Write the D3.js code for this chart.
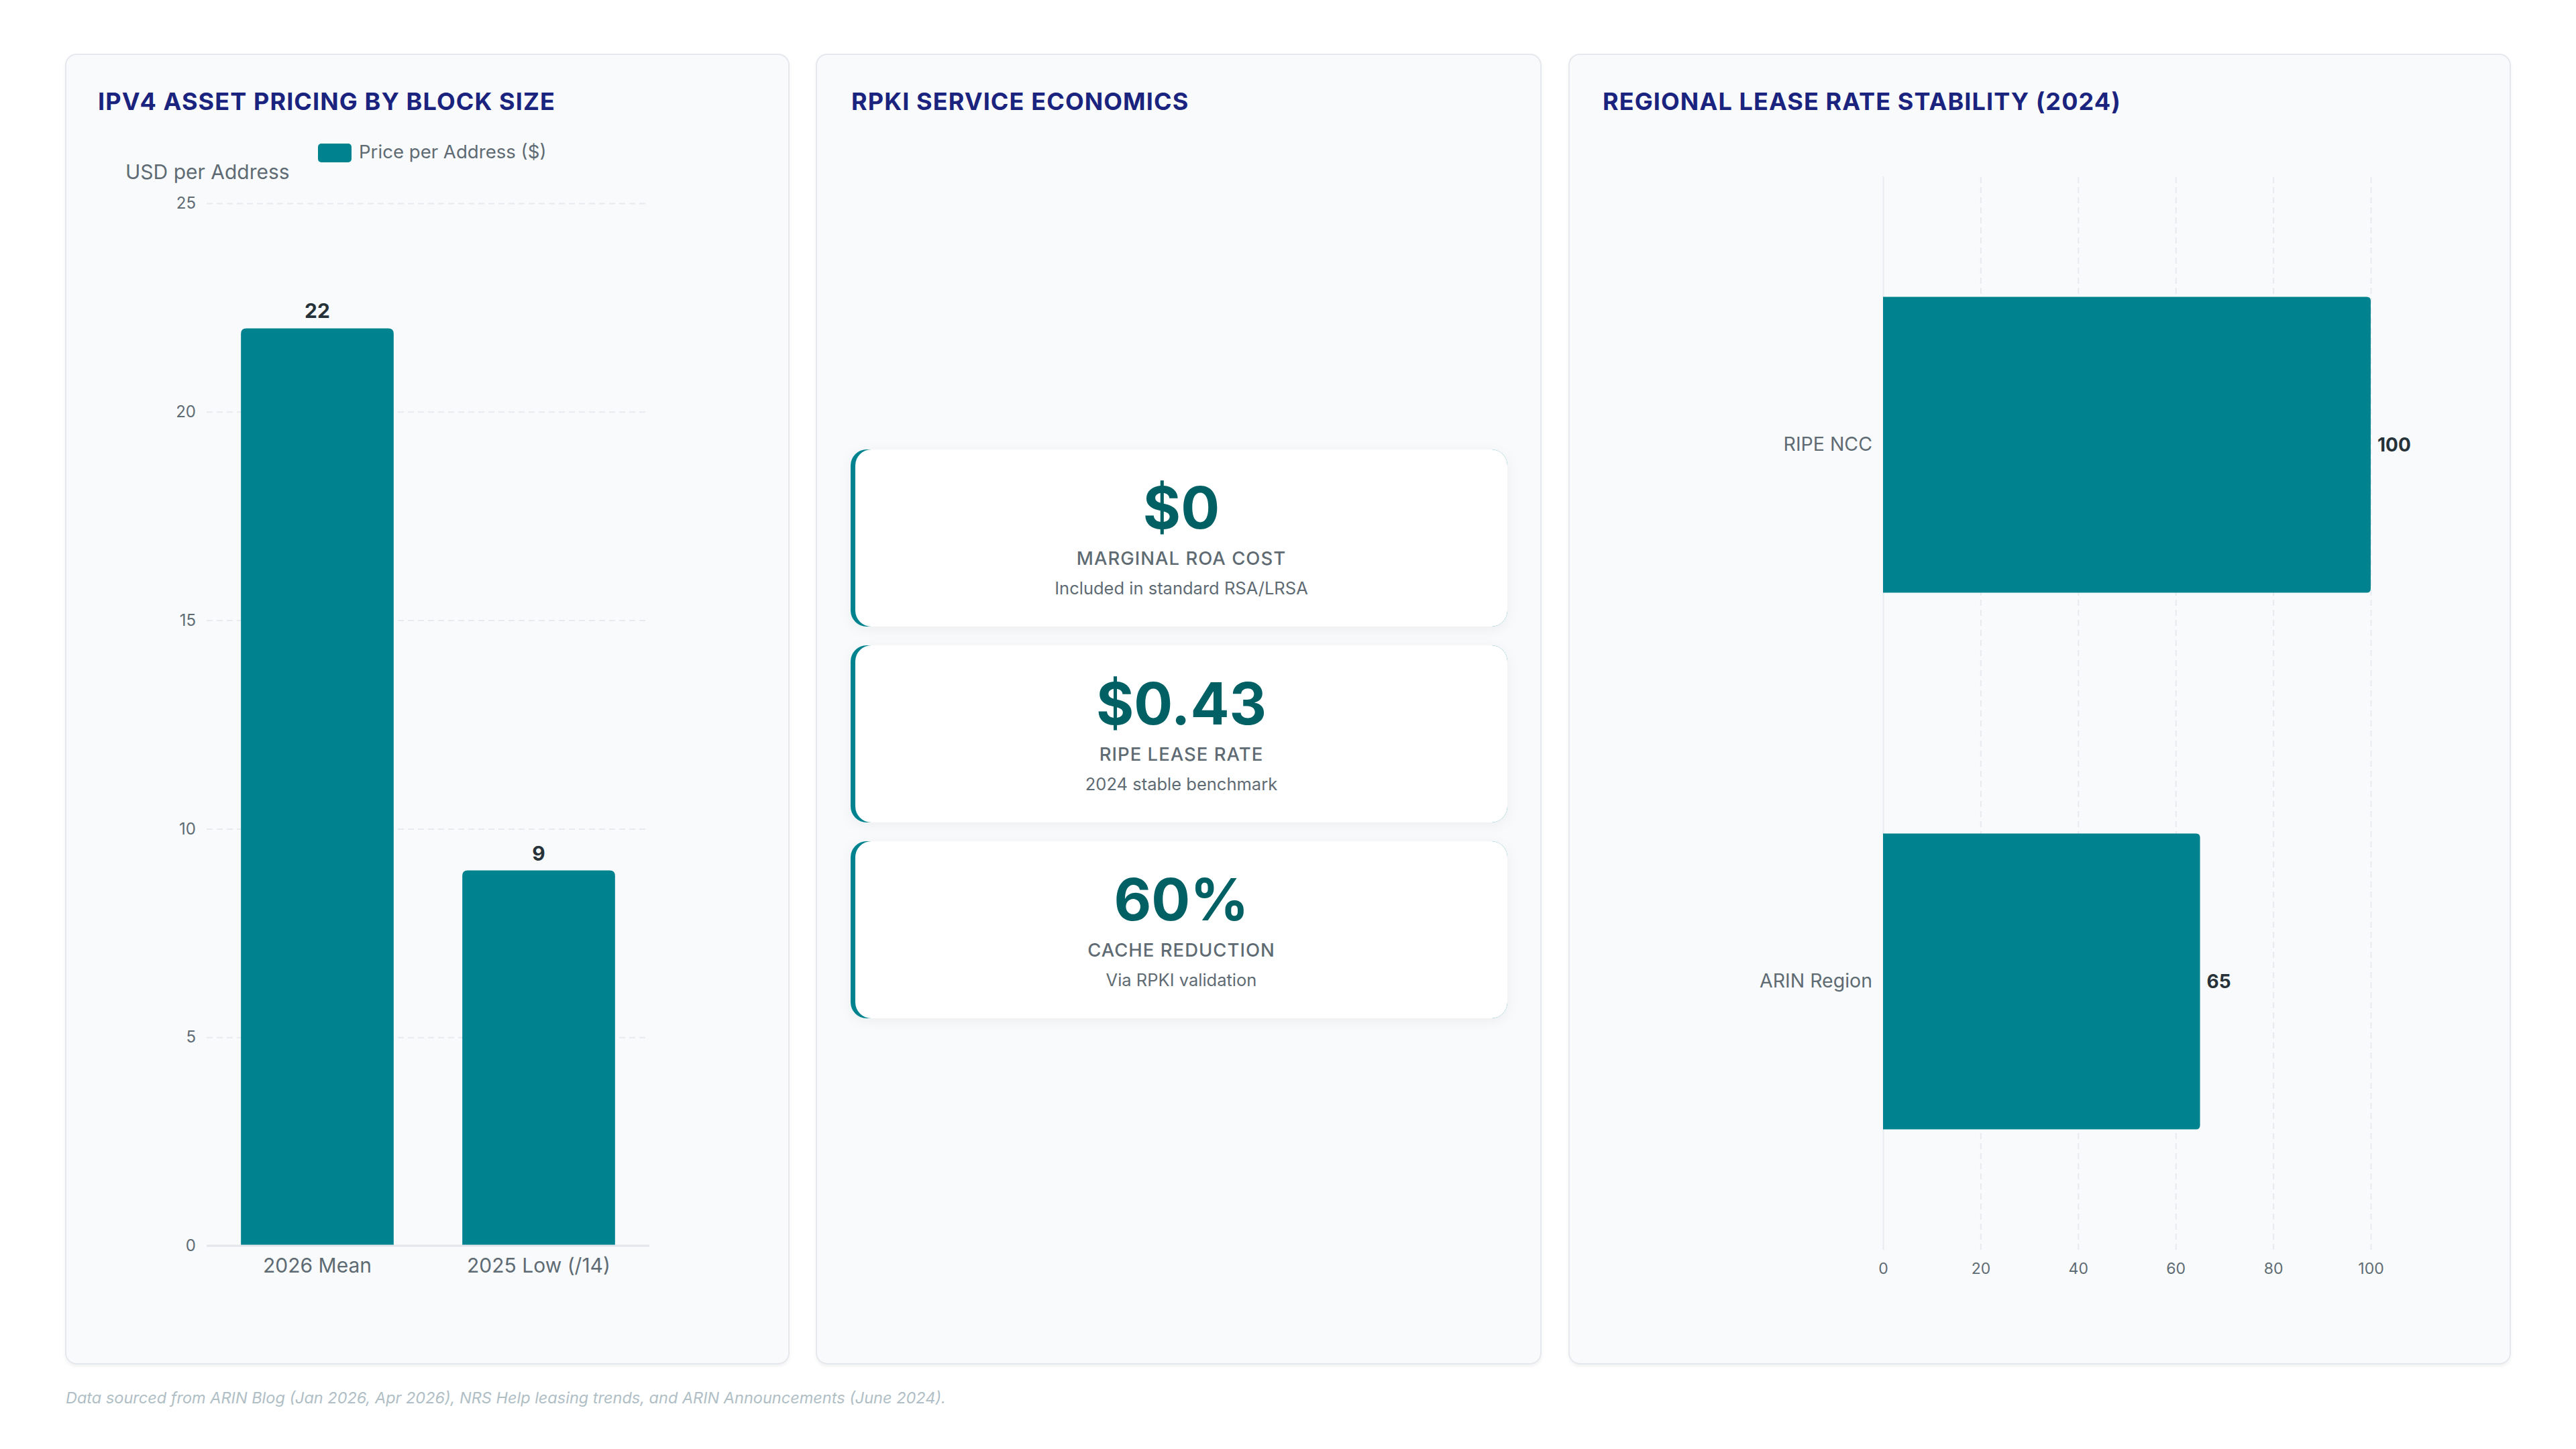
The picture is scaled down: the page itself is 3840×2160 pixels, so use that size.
<!DOCTYPE html>
<html>
<head>
<meta charset="utf-8">
<script src="https://cdn.jsdelivr.net/npm/d3@7"></script>
<style>
  body { margin: 0; background: #ffffff; font-family: Inter, "Noto Sans", sans-serif; }
  svg { display: block; }
</style>
</head>
<body>
<svg id="page" width="3840" height="2160"></svg>
<script>
// ---- data ----
var priceCategories = ["2026 Mean", "2025 Low (/14)"],
    priceValues = [22, 9],
    priceTicks = [0, 5, 10, 15, 20, 25];

var regionCategories = ["RIPE NCC", "ARIN Region"],
    regionValues = [100, 65],
    regionTicks = [0, 20, 40, 60, 80, 100];

var kpiValues = ["$0", "$0.43", "60%"],
    kpiLabels = ["MARGINAL ROA COST", "RIPE LEASE RATE", "CACHE REDUCTION"],
    kpiNotes = ["Included in standard RSA/LRSA", "2024 stable benchmark", "Via RPKI validation"];

var panelTitles = ["IPV4 ASSET PRICING BY BLOCK SIZE", "RPKI SERVICE ECONOMICS", "REGIONAL LEASE RATE STABILITY (2024)"];

// ---- look ----
var teal = "#00838f",
    tealDark = "#006064",
    navy = "#1a237e",
    grey = "#5f6b73",
    gridColor = "#e7eaee",
    panelTop = 81,
    panelHeight = 1952,
    panels = [{ x: 98, w: 1078, tx: 146 }, { x: 1217, w: 1080, tx: 1269 }, { x: 2339, w: 1403, tx: 2389 }];

var svg = d3.select("#page");
var defs = svg.append("defs");

var f1 = defs.append("filter").attr("id", "panelShadow")
    .attr("x", "-5%").attr("y", "-5%").attr("width", "110%").attr("height", "110%");
f1.append("feDropShadow").attr("dx", 0).attr("dy", 3).attr("stdDeviation", 2)
    .attr("flood-color", "#000").attr("flood-opacity", 0.05);

var f2 = defs.append("filter").attr("id", "cardShadow")
    .attr("x", "-10%").attr("y", "-20%").attr("width", "120%").attr("height", "140%");
f2.append("feDropShadow").attr("dx", 0).attr("dy", 4).attr("stdDeviation", 9)
    .attr("flood-color", "#000").attr("flood-opacity", 0.05);

// panels
svg.selectAll("rect.panel")
    .data(panels)
    .enter()
    .append("rect")
    .attr("class", "panel")
    .attr("x", function(d) { return d.x; })
    .attr("y", panelTop)
    .attr("width", function(d) { return d.w; })
    .attr("height", panelHeight)
    .attr("rx", 16)
    .attr("fill", "#f8fafc")
    .attr("stroke", "#e5e8ec")
    .attr("stroke-width", 2)
    .attr("filter", "url(#panelShadow)");

svg.selectAll("text.panelTitle")
    .data(panelTitles)
    .enter()
    .append("text")
    .attr("class", "panelTitle")
    .attr("x", function(d, i) { return panels[i].tx; })
    .attr("y", 164)
    .attr("font-size", "36px")
    .attr("font-weight", 700)
    .attr("letter-spacing", "1.1px")
    .attr("fill", navy)
    .text(function(d) { return d; });

// rounded-top bar path (vertical bars)
function topRounded(x, y, w, h, r) {
    r = Math.min(r, h, w / 2);
    return "M" + x + "," + (y + h) +
        "V" + (y + r) + "Q" + x + "," + y + " " + (x + r) + "," + y +
        "H" + (x + w - r) + "Q" + (x + w) + "," + y + " " + (x + w) + "," + (y + r) +
        "V" + (y + h) + "Z";
}
// rounded-right bar path (horizontal bars)
function rightRounded(x, y, w, h, r) {
    r = Math.min(r, w, h / 2);
    return "M" + x + "," + y +
        "H" + (x + w - r) + "Q" + (x + w) + "," + y + " " + (x + w) + "," + (y + r) +
        "V" + (y + h - r) + "Q" + (x + w) + "," + (y + h) + " " + (x + w - r) + "," + (y + h) +
        "H" + x + "Z";
}

// ---- chart 1: price per address ----
var c1 = { left: 308, right: 968, top: 303, bottom: 1857 };
var x1 = d3.scaleBand().domain(priceCategories).range([c1.left, c1.right]).padding(0);
var y1 = d3.scaleLinear().domain([0, 25]).range([c1.bottom, c1.top]);

var g1 = svg.append("g");

var yAxis1 = g1.append("g")
    .attr("transform", "translate(" + c1.left + ",0)")
    .call(d3.axisLeft(y1).tickValues(priceTicks).tickSize(-(c1.right - c1.left)).tickPadding(16));
yAxis1.select(".domain").remove();
yAxis1.selectAll(".tick line")
    .attr("stroke", gridColor)
    .attr("stroke-width", 2)
    .attr("stroke-dasharray", function(d) { return d === 0 ? null : "9,6"; });
yAxis1.selectAll(".tick text")
    .attr("fill", grey)
    .attr("font-size", "24px")
    .attr("font-family", "Inter, sans-serif");

var barW1 = x1.bandwidth() * 0.69;
g1.selectAll("path.bar")
    .data(priceValues)
    .enter()
    .append("path")
    .attr("class", "bar")
    .attr("fill", teal)
    .attr("d", function(d, i) {
        var bx = x1(priceCategories[i]) + (x1.bandwidth() - barW1) / 2;
        return topRounded(bx, y1(d), barW1, y1(0) - y1(d), 8);
    });

// baseline
g1.append("line")
    .attr("x1", c1.left).attr("x2", c1.right)
    .attr("y1", y1(0)).attr("y2", y1(0))
    .attr("stroke", "#e3e6ea").attr("stroke-width", 3);

g1.selectAll("text.val")
    .data(priceValues)
    .enter()
    .append("text")
    .attr("class", "val")
    .attr("x", function(d, i) { return x1(priceCategories[i]) + x1.bandwidth() / 2; })
    .attr("y", function(d) { return y1(d) - 15; })
    .attr("text-anchor", "middle")
    .attr("font-size", "30px")
    .attr("font-weight", 700)
    .attr("fill", "#263238")
    .text(function(d) { return d; });

var xAxis1 = g1.append("g")
    .attr("transform", "translate(0," + c1.bottom + ")")
    .call(d3.axisBottom(x1).tickSize(0).tickPadding(19));
xAxis1.select(".domain").remove();
xAxis1.selectAll(".tick text")
    .attr("fill", grey)
    .attr("font-size", "30px")
    .attr("font-family", "Inter, sans-serif");

// legend + axis title
g1.append("rect")
    .attr("x", 474).attr("y", 214).attr("width", 50).attr("height", 28).attr("rx", 5)
    .attr("fill", teal);
g1.append("text")
    .attr("x", 535).attr("y", 236)
    .attr("font-size", "27.6px").attr("fill", grey)
    .text("Price per Address ($)");
g1.append("text")
    .attr("x", 187).attr("y", 267)
    .attr("font-size", "30px").attr("fill", grey)
    .text("USD per Address");

// ---- panel 2: KPI cards ----
var cardX = 1268, cardW = 979, cardH = 264, cardTop = 670, cardGap = 28, edge = 7;

var cards = svg.selectAll("g.card")
    .data(kpiValues)
    .enter()
    .append("g")
    .attr("class", "card")
    .attr("transform", function(d, i) { return "translate(" + cardX + "," + (cardTop + i * (cardH + cardGap)) + ")"; });

cards.append("rect")
    .attr("width", cardW).attr("height", cardH).attr("rx", 24)
    .attr("fill", teal)
    .attr("filter", "url(#cardShadow)");
cards.append("rect")
    .attr("x", edge).attr("width", cardW - edge).attr("height", cardH).attr("rx", 24)
    .attr("fill", "#ffffff");

var cardMid = (edge + cardW) / 2;
cards.append("text")
    .attr("x", cardMid).attr("y", 118)
    .attr("text-anchor", "middle")
    .attr("font-size", "86px")
    .attr("font-weight", 700)
    .attr("fill", tealDark)
    .text(function(d) { return d; });
cards.append("text")
    .attr("x", cardMid).attr("y", 172)
    .attr("text-anchor", "middle")
    .attr("font-size", "27.5px")
    .attr("font-weight", 500)
    .attr("letter-spacing", "1px")
    .attr("fill", grey)
    .text(function(d, i) { return kpiLabels[i]; });
cards.append("text")
    .attr("x", cardMid).attr("y", 216)
    .attr("text-anchor", "middle")
    .attr("font-size", "25.5px")
    .attr("fill", grey)
    .text(function(d, i) { return kpiNotes[i]; });

// ---- chart 3: regional lease rate ----
var c3 = { left: 2807, right: 3534, top: 263, bottom: 1863 };
var x3 = d3.scaleLinear().domain([0, 100]).range([c3.left, c3.right]);
var y3 = d3.scaleBand().domain(regionCategories).range([c3.top, c3.bottom]).padding(0);

var g3 = svg.append("g");

var xAxis3 = g3.append("g")
    .attr("transform", "translate(0," + c3.bottom + ")")
    .call(d3.axisBottom(x3).tickValues(regionTicks).tickSize(-(c3.bottom - c3.top)).tickPadding(20));
xAxis3.select(".domain").remove();
xAxis3.selectAll(".tick line")
    .attr("stroke", gridColor)
    .attr("stroke-width", 2)
    .attr("stroke-dasharray", function(d) { return d === 0 ? null : "9,6"; });
xAxis3.selectAll(".tick text")
    .attr("fill", grey)
    .attr("font-size", "23px")
    .attr("font-family", "Inter, sans-serif");

var barH3 = y3.bandwidth() * 0.551;
g3.selectAll("path.bar")
    .data(regionValues)
    .enter()
    .append("path")
    .attr("class", "bar")
    .attr("fill", teal)
    .attr("d", function(d, i) {
        var by = y3(regionCategories[i]) + (y3.bandwidth() - barH3) / 2;
        return rightRounded(x3(0), by, x3(d) - x3(0), barH3, 6);
    });

var yAxis3 = g3.append("g")
    .attr("transform", "translate(" + c3.left + ",0)")
    .call(d3.axisLeft(y3).tickSize(0).tickPadding(16));
yAxis3.select(".domain").remove();
yAxis3.selectAll(".tick text")
    .attr("fill", grey)
    .attr("font-size", "28.5px")
    .attr("font-family", "Inter, sans-serif");

g3.selectAll("text.val")
    .data(regionValues)
    .enter()
    .append("text")
    .attr("class", "val")
    .attr("x", function(d) { return x3(d) + 10; })
    .attr("y", function(d, i) { return y3(regionCategories[i]) + y3.bandwidth() / 2; })
    .attr("dy", "0.35em")
    .attr("font-size", "28px")
    .attr("font-weight", 700)
    .attr("fill", "#263238")
    .text(function(d) { return d; });

// ---- footer ----
svg.append("text")
    .attr("x", 98).attr("y", 2092)
    .attr("font-size", "23.5px")
    .attr("font-style", "italic")
    .attr("fill", "#b0bec5")
    .text("Data sourced from ARIN Blog (Jan 2026, Apr 2026), NRS Help leasing trends, and ARIN Announcements (June 2024).");
</script>
</body>
</html>
